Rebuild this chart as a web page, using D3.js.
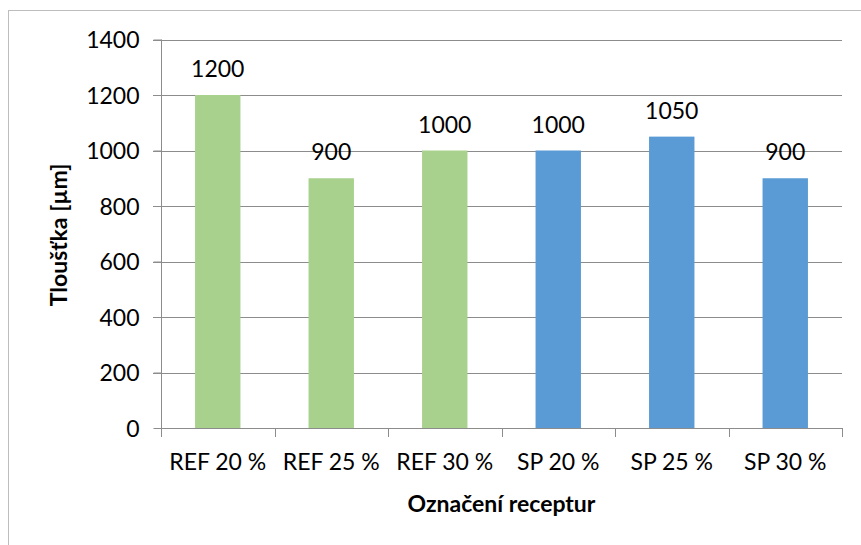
<!DOCTYPE html>
<html lang="cs">
<head>
<meta charset="utf-8"/>
<title>Tloušťka</title>
<style>
    body { margin: 0; background: #fff; }
    svg { display: block; font-family: Lato, "Open Sans", sans-serif; }
    .grid line { stroke: #8c8c8c; stroke-width: 1px; }
    .axis path, .axis line { stroke: #8c8c8c; }
    .tick text { fill: #000; font-size: 23px; font-family: Lato, sans-serif; }
    .label { font-size: 23px; fill: #000; text-anchor: middle; }
    .title { font-size: 23px; font-weight: bold; fill: #000; text-anchor: middle; }
</style>
</head>
<body>
<div class="viz"></div>
<script src="https://cdnjs.cloudflare.com/ajax/libs/d3/7.8.5/d3.min.js"></script>
<script>
    // data
    var categories = ["REF 20 %", "REF 25 %", "REF 30 %", "SP 20 %", "SP 25 %", "SP 30 %"];
    var values = [1200, 900, 1000, 1000, 1050, 900];
    var colours = ["#a9d18e", "#a9d18e", "#a9d18e", "#5b9bd5", "#5b9bd5", "#5b9bd5"];
    var yTicks = [0, 200, 400, 600, 800, 1000, 1200, 1400];

    var width = 861, height = 545;
    var plot = {left: 161, right: 842, top: 39.5, bottom: 428};

    var svg = d3.select('.viz').append('svg')
        .attr('width', width)
        .attr('height', height);

    // chart frame (only top + left visible)
    svg.append('rect')
        .attr('x', 8.5).attr('y', 10.5)
        .attr('width', 900).attr('height', 600)
        .attr('fill', 'none')
        .attr('stroke', '#bdbdbd');

    var x = d3.scaleBand()
        .domain(categories)
        .range([plot.left, plot.right])
        .paddingInner(0.6)
        .paddingOuter(0.3);

    var y = d3.scaleLinear()
        .domain([0, 1400])
        .range([plot.bottom, plot.top]);

    // gridlines
    svg.append('g')
        .attr('class', 'grid')
        .selectAll('line')
        .data(yTicks.filter(function(d) { return d > 0; }))
        .enter().append('line')
        .attr('x1', plot.left - 8).attr('x2', plot.right)
        .attr('y1', function(d) { return Math.round(y(d)) + 0.5; })
        .attr('y2', function(d) { return Math.round(y(d)) + 0.5; });

    // y axis
    var yAxis = svg.append('g')
        .attr('class', 'axis')
        .attr('transform', 'translate(' + (plot.left + 0.5) + ',0)')
        .call(d3.axisLeft(y).tickValues(yTicks).tickFormat(d3.format('d')).tickSize(8).tickPadding(14));
    yAxis.select('.domain').attr('d', 'M0,' + plot.top + 'V' + plot.bottom);
    yAxis.selectAll('.tick text').attr('dy', '0.35em');

    // bars
    svg.append('g')
        .selectAll('rect')
        .data(values)
        .enter().append('rect')
        .attr('x', function(d, i) { return x(categories[i]); })
        .attr('width', x.bandwidth())
        .attr('y', function(d) { return y(d); })
        .attr('height', function(d) { return y(0) - y(d); })
        .attr('fill', function(d, i) { return colours[i]; });

    // value labels
    svg.append('g')
        .selectAll('text')
        .data(values)
        .enter().append('text')
        .attr('class', 'label')
        .attr('x', function(d, i) { return x(categories[i]) + x.bandwidth() / 2; })
        .attr('y', function(d) { return y(d) - 18; })
        .text(function(d) { return d; });

    // x axis with ticks between categories
    var bounds = categories.map(function(c, i) { return plot.left + i * (plot.right - plot.left) / categories.length; });
    bounds.push(plot.right);
    var xAxis = svg.append('g').attr('class', 'axis');
    xAxis.append('line')
        .attr('x1', plot.left).attr('x2', plot.right)
        .attr('y1', Math.round(plot.bottom) + 0.5).attr('y2', Math.round(plot.bottom) + 0.5)
        .attr('stroke', '#8c8c8c');
    xAxis.selectAll('.edge')
        .data(bounds)
        .enter().append('line')
        .attr('class', 'edge')
        .attr('x1', function(d) { return Math.round(d) + 0.5; })
        .attr('x2', function(d) { return Math.round(d) + 0.5; })
        .attr('y1', plot.bottom)
        .attr('y2', plot.bottom + 9)
        .attr('stroke', '#8c8c8c');
    xAxis.selectAll('.cat')
        .data(categories)
        .enter().append('text')
        .attr('class', 'label')
        .attr('x', function(d) { return x(d) + x.bandwidth() / 2; })
        .attr('y', 470)
        .text(function(d) { return d; });

    // axis titles
    svg.append('text')
        .attr('class', 'title')
        .attr('x', (plot.left + plot.right) / 2)
        .attr('y', 512)
        .text('Označení receptur');

    svg.append('text')
        .attr('class', 'title')
        .attr('transform', 'translate(67,235) rotate(-90)')
        .text('Tloušťka [µm]');
</script>
</body>
</html>
